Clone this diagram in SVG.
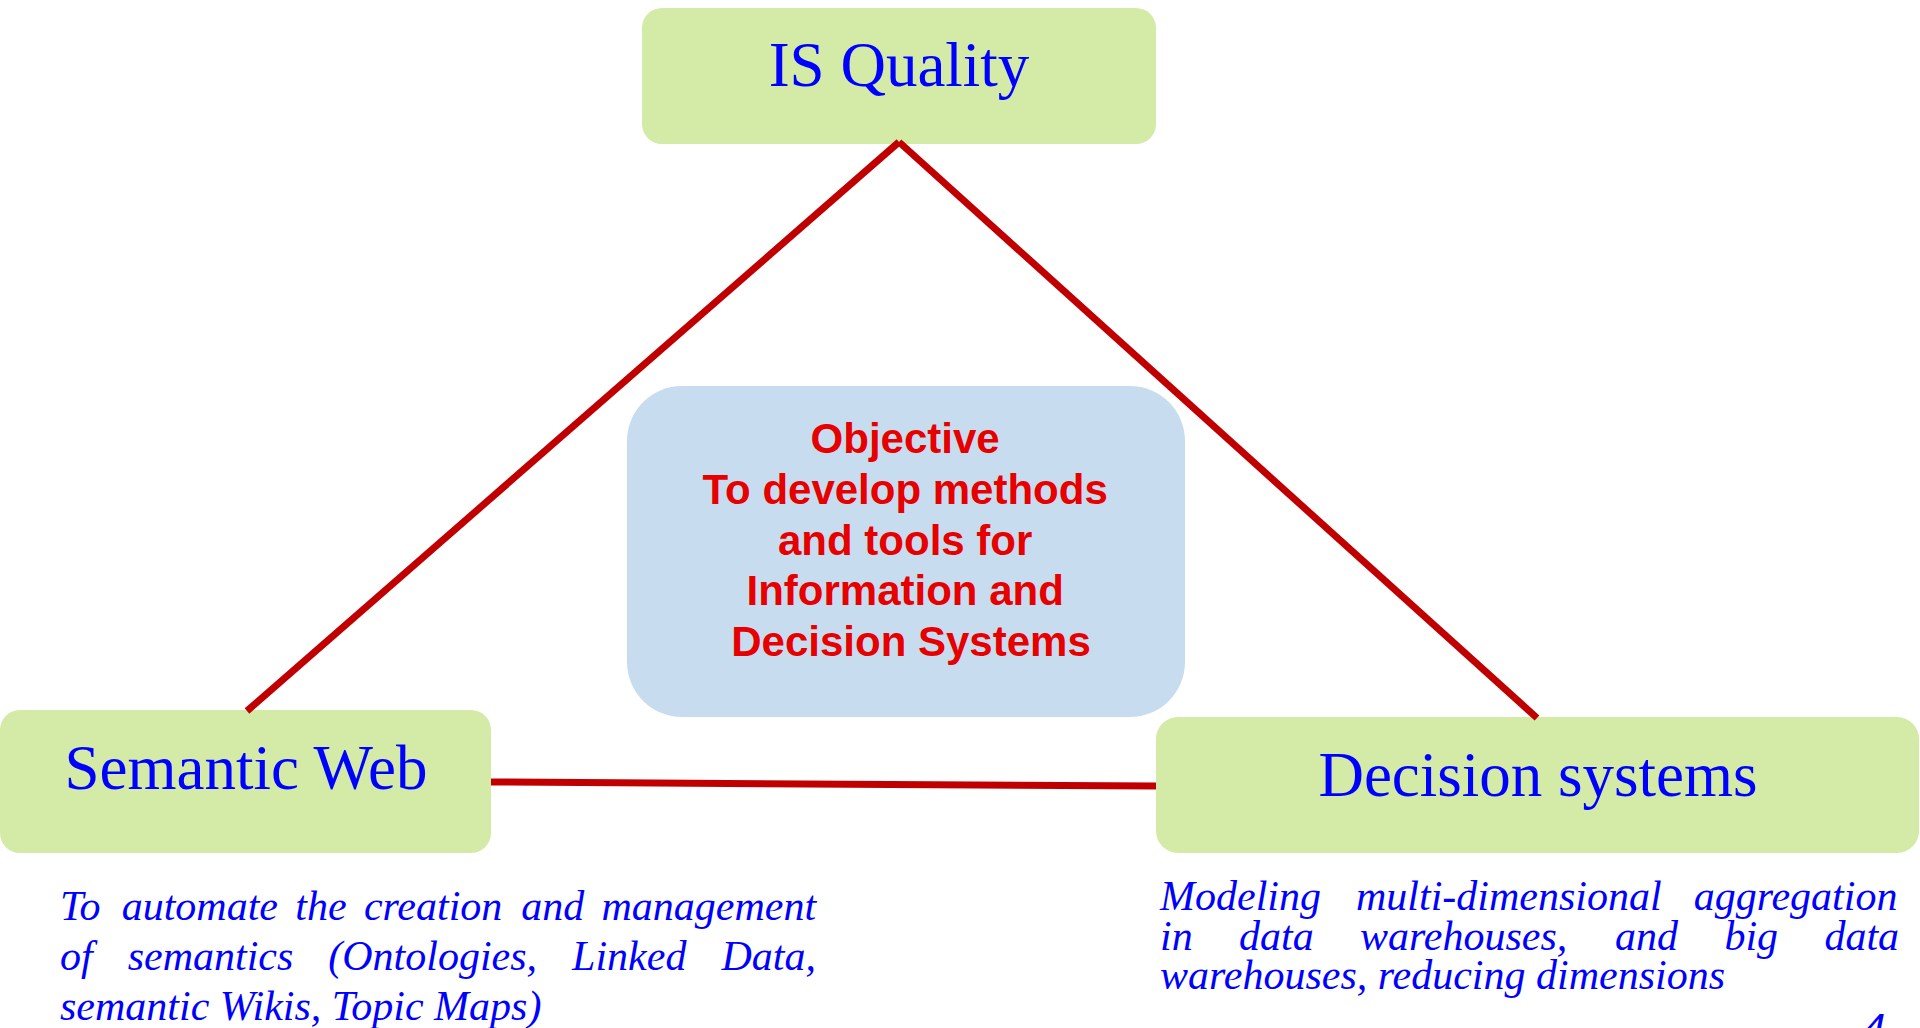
<svg xmlns="http://www.w3.org/2000/svg" width="1920" height="1028" viewBox="0 0 1920 1028">
  <style>
    .topic { fill: #D3EBA6; }
    .goal { fill: #C8DCEF; }
    .topic-label { font-family: "Liberation Serif", "Times New Roman", serif; font-size: 63px; fill: #0000FF; text-anchor: middle; }
    .goal-label { font-family: "Liberation Sans", Arial, sans-serif; font-size: 42px; font-weight: bold; fill: #E60000; text-anchor: middle; }
    .note { font-family: "Liberation Serif", "Times New Roman", serif; font-style: italic; font-size: 42px; fill: #0000FF; }
    .link { stroke: #C00000; stroke-width: 7; fill: none; stroke-linecap: butt; }
    .page { font-family: "Liberation Sans", Arial, sans-serif; font-style: italic; font-size: 42px; fill: #0000FF; }
  </style>

  <rect width="1920" height="1028" fill="#FFFFFF"/>

  <!-- three research areas and the central objective -->
  <g id="node-is-quality">
    <rect class="topic" x="642" y="8" width="514" height="136" rx="20" ry="20"/>
    <text class="topic-label" x="899" y="86">IS Quality</text>
  </g>

  <g id="node-objective">
    <rect class="goal" x="627" y="386" width="558" height="331" rx="55" ry="55"/>
    <text class="goal-label">
      <tspan x="911" y="453">Objective</tspan>
      <tspan x="911" y="504">To develop methods</tspan>
      <tspan x="911" y="555">and tools for</tspan>
      <tspan x="911" y="605">Information and</tspan>
      <tspan x="911" y="656">Decision Systems</tspan>
    </text>
  </g>

  <g id="node-semantic-web">
    <rect class="topic" x="0" y="710" width="491" height="143" rx="20" ry="20"/>
    <text class="topic-label" x="246" y="789">Semantic Web</text>
  </g>

  <g id="node-decision-systems">
    <rect class="topic" x="1156" y="717" width="763" height="136" rx="22" ry="22"/>
    <text class="topic-label" x="1538" y="796">Decision systems</text>
  </g>

  <!-- triangle of links between the areas -->
  <g id="connectors">
    <line class="link" x1="899" y1="142" x2="247" y2="711"/>
    <line class="link" x1="899" y1="142" x2="1537" y2="718"/>
    <line class="link" x1="491" y1="782" x2="1156" y2="786"/>
  </g>

  <!-- justified descriptions under the bottom areas -->
  <g id="note-semantic-web">
    <text class="note" y="920">
      <tspan x="60">To</tspan><tspan x="121.7">automate</tspan><tspan x="295.3">the</tspan><tspan x="363.9">creation</tspan><tspan x="521.2">and</tspan><tspan x="601.5">management</tspan>
    </text>
    <text class="note" y="970">
      <tspan x="60">of</tspan><tspan x="127.7">semantics</tspan><tspan x="328.3">(Ontologies,</tspan><tspan x="572.1">Linked</tspan><tspan x="721.4">Data,</tspan>
    </text>
    <text class="note" x="60" y="1020">semantic Wikis, Topic Maps)</text>
  </g>

  <g id="note-decision-systems">
    <text class="note" y="910">
      <tspan x="1160">Modeling</tspan><tspan x="1356">multi-dimensional</tspan><tspan x="1693.7">aggregation</tspan>
    </text>
    <text class="note" y="950">
      <tspan x="1160">in</tspan><tspan x="1239">data</tspan><tspan x="1360">warehouses,</tspan><tspan x="1615.1">and</tspan><tspan x="1724.4">big</tspan><tspan x="1824.4">data</tspan>
    </text>
    <text class="note" x="1160" y="989">warehouses, reducing dimensions</text>
  </g>

  <text class="page" x="1862" y="1043">4</text>
</svg>
